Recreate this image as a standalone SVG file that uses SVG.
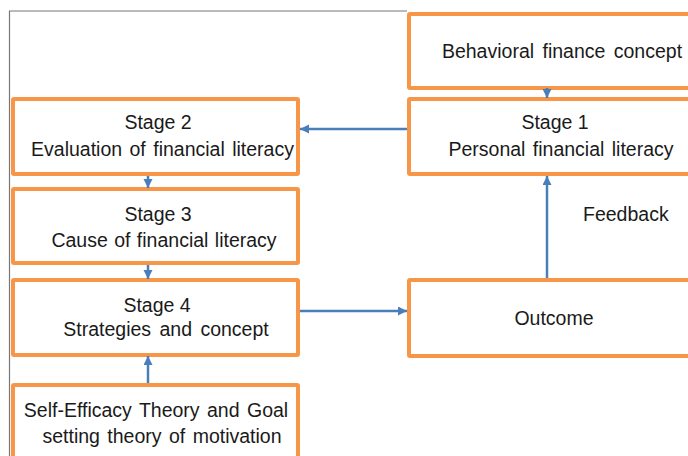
<svg xmlns="http://www.w3.org/2000/svg" width="688" height="456" viewBox="0 0 688 456">
<defs>
<style>
.box{fill:#fff;stroke:#F79646;stroke-width:4}
.t{font-family:"Liberation Sans",Arial,sans-serif;font-size:19.5px;fill:#1a1a1a;text-anchor:middle}
.c{fill:none;stroke:#4A7EBB;stroke-width:2.5}
</style>
<marker id="ah" markerUnits="userSpaceOnUse" markerWidth="10" markerHeight="10" refX="9" refY="4.5" orient="auto">
<path d="M0,0 L9,4.5 L0,9 z" fill="#4A7EBB"/>
</marker>
</defs>
<rect width="688" height="456" fill="#fff"/>
<path d="M9.5,456 V11 H407" fill="none" stroke="#777" stroke-width="1.2"/>
<g id="behavioral"><rect class="box" x="409" y="14" width="300" height="74" rx="1"/><text class="t" x="562" y="58" word-spacing="3">Behavioral finance concept</text></g>
<g id="stage1"><rect class="box" x="409" y="99" width="300" height="75" rx="1"/><text class="t" x="555" y="129">Stage 1</text><text class="t" x="561" y="156" word-spacing="2">Personal financial literacy</text></g>
<g id="stage2"><rect class="box" x="13" y="99" width="285" height="75" rx="1"/><text class="t" x="158" y="129">Stage 2</text><text class="t" x="162.5" y="156" word-spacing="2">Evaluation of financial literacy</text></g>
<g id="stage3"><rect class="box" x="13" y="189" width="285" height="74" rx="1"/><text class="t" x="158" y="221">Stage 3</text><text class="t" x="164" y="247" word-spacing="1">Cause of financial literacy</text></g>
<g id="stage4"><rect class="box" x="13" y="280" width="285" height="75" rx="1"/><text class="t" x="157" y="312">Stage 4</text><text class="t" x="166" y="336" word-spacing="3">Strategies and concept</text></g>
<g id="selfefficacy"><rect class="box" x="13" y="385" width="285" height="80" rx="1"/><text class="t" x="156" y="417" word-spacing="2">Self-Efficacy Theory and Goal</text><text class="t" x="162" y="443" word-spacing="2">setting theory of motivation</text></g>
<g id="outcome"><rect class="box" x="409" y="280" width="300" height="76" rx="1"/><text class="t" x="554" y="325">Outcome</text></g>
<g id="connectors">
<line class="c" x1="407" y1="129" x2="300" y2="129" marker-end="url(#ah)"/>
<line class="c" x1="547" y1="88" x2="547" y2="98" marker-end="url(#ah)"/>
<line class="c" x1="148" y1="176" x2="148" y2="188" marker-end="url(#ah)"/>
<line class="c" x1="148" y1="265" x2="148" y2="279" marker-end="url(#ah)"/>
<line class="c" x1="148" y1="383" x2="148" y2="356" marker-end="url(#ah)"/>
<line class="c" x1="300" y1="311" x2="407" y2="311" marker-end="url(#ah)"/>
<line class="c" x1="547" y1="278" x2="547" y2="176" marker-end="url(#ah)"/>
<text class="t" x="583" y="221" style="text-anchor:start">Feedback</text>
</g>
</svg>
